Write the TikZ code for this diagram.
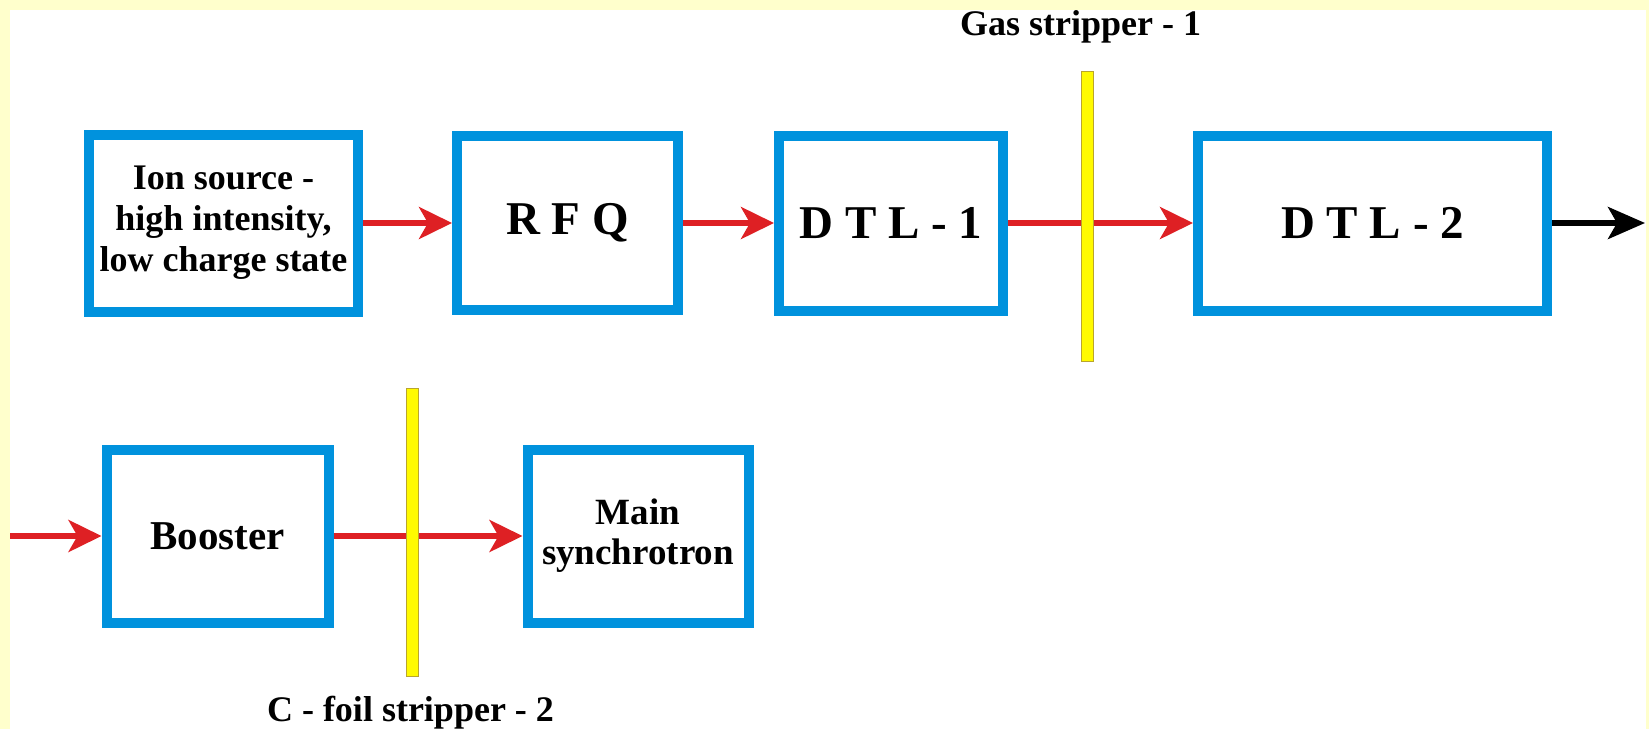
\documentclass[tikz,border=0pt]{standalone}
\usepackage{fontspec}
\setmainfont{Liberation Serif}
\usepackage{tikz}
\usetikzlibrary{positioning,arrows.meta}
\definecolor{boxblue}{RGB}{0,146,221}
\definecolor{beamred}{RGB}{222,32,36}
\definecolor{foilyellow}{RGB}{255,250,0}
\definecolor{foiledge}{RGB}{185,165,45}
\definecolor{pagecream}{RGB}{255,255,204}
\tikzset{
  stage/.style   ={rectangle, draw=boxblue, fill=white, line width=10pt, inner sep=0pt,
                   align=center, font=\bfseries\fontsize{36pt}{41pt}\selectfont},
  bigstage/.style={stage, font=\bfseries\fontsize{47pt}{50pt}\selectfont},
  stripper/.style={rectangle, draw=foiledge, fill=foilyellow, line width=1pt,
                   minimum width=12pt, inner sep=0pt},
  lbl/.style     ={inner sep=0pt, font=\bfseries\fontsize{36pt}{40pt}\selectfont},
  beam/.style    ={-{Stealth[length=33pt, width=32pt, inset=9pt]}, line width=5.5pt, draw=beamred},
  beamout/.style ={-{Stealth[length=37pt, width=32pt, inset=9pt]}, line width=5.5pt, draw=black},
}
\begin{document}
\begin{tikzpicture}[x=1pt, y=-1pt]
\useasboundingbox (0,0) rectangle (1649,729);
\fill[pagecream] (0,0) rectangle (1649,729);
\fill[white] (10,9.5) rectangle (1646,729);
% linac line
\node[stage, minimum width=269pt, minimum height=177pt] (ion) at (223.5,223)
  {Ion source -\\ high intensity,\\ low charge state};
\node[bigstage, minimum width=221pt, minimum height=174pt, right=89pt of ion] (rfq) {R F Q};
\node[bigstage, minimum width=224pt, minimum height=175pt, right=91pt of rfq] (dtl1) {D T L - 1};
\node[bigstage, minimum width=349pt, minimum height=175pt, right=185pt of dtl1] (dtl2) {D T L - 2};
% rings
\node[stage, minimum width=222pt, minimum height=173pt, font=\bfseries\fontsize{41pt}{44pt}\selectfont]
  (booster) at (217.5,536) {Booster};
\node[stage, minimum width=221pt, minimum height=173pt, font=\bfseries\fontsize{37pt}{40pt}\selectfont,
  right=189pt of booster] (main) {Main\\ synchrotron};
\coordinate (entry) at (10,536);
\coordinate (exit) at (1645,223);
\foreach \x/\y in {ion/rfq,rfq/dtl1,dtl1/dtl2,booster/main} \draw[beam] (\x) -- (\y);
\draw[beam] (entry) -- (booster);
\draw[beamout] (dtl2) -- (exit);
% strippers
\node[stripper, minimum height=290pt] (gasbar) at (1087.5,216) {};
\node[stripper, minimum height=288pt] (foilbar) at (412.5,532) {};
\node[lbl, above=27pt of gasbar, xshift=-7pt] (gaslbl) {Gas stripper - 1};
\node[lbl, below=19pt of foilbar, xshift=-2pt] (foillbl) {C - foil stripper - 2};
\end{tikzpicture}
\end{document}
